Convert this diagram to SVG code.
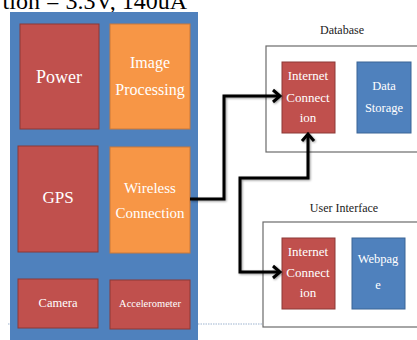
<svg xmlns="http://www.w3.org/2000/svg" width="417" height="340" viewBox="0 0 417 340">
<defs>
<style>
.red{fill:#C0504D;stroke:#8C3836;stroke-width:1}
.org{fill:#F79646;stroke:#C9783A;stroke-width:1}
.blu{fill:#4F81BD;stroke:#3B6596;stroke-width:1}
.frame{fill:#fff;stroke:#6b6b6b;stroke-width:1.2}
.w{fill:#fff;font-family:'Liberation Serif',serif;text-anchor:middle}
.k{fill:#222;font-family:'Liberation Serif',serif;text-anchor:middle;font-size:12px}
.conn{fill:none;stroke:#000;stroke-width:3;stroke-linejoin:miter}
</style>
<marker id="arr" markerUnits="userSpaceOnUse" markerWidth="14" markerHeight="16" refX="11" refY="8" orient="auto-start-reverse" viewBox="0 0 14 16">
<polyline points="4,2 11,8 4,14" fill="none" stroke="#000" stroke-width="3"/>
</marker>
<filter id="sh" x="-10%" y="-10%" width="130%" height="130%">
<feDropShadow dx="1" dy="1" stdDeviation="0.8" flood-color="#000" flood-opacity="0.4"/>
</filter>
</defs>
<rect width="417" height="340" fill="#fff"/>
<text x="187" y="9" font-family="Liberation Serif,serif" font-size="24" text-anchor="end" fill="#000">tion = 3.3V, 140uA</text>
<line x1="8" y1="324" x2="263" y2="324" stroke="#9DB3CF" stroke-width="1" stroke-dasharray="1.5,1"/>
<g id="device">
<rect x="10" y="12" width="188" height="330" fill="#4F81BD"/>
</g>
<g id="power"><rect class="red" x="20" y="24" width="79" height="105"/><text class="w" x="59" y="83" font-size="18">Power</text></g>
<g id="image"><rect class="org" x="110" y="24" width="80" height="105"/><text class="w" x="150" y="68" font-size="16">Image</text><text class="w" x="150" y="95" font-size="16">Processing</text></g>
<g id="gps"><rect class="red" x="18" y="146" width="80" height="106"/><text class="w" x="58" y="203" font-size="17">GPS</text></g>
<g id="wireless"><rect class="org" x="110" y="147" width="80" height="106"/><text class="w" x="150" y="193" font-size="15">Wireless</text><text class="w" x="150" y="218" font-size="15">Connection</text></g>
<g id="camera"><rect class="red" x="18" y="279" width="80" height="49"/><text class="w" x="58" y="307" font-size="12.5">Camera</text></g>
<g id="accel"><rect class="red" x="110" y="280" width="80" height="49"/><text class="w" x="150" y="307" font-size="10.5">Accelerometer</text></g>
<g id="database">
<rect class="frame" x="266" y="46" width="160" height="106"/>
<text class="k" x="342" y="34">Database</text>
</g>
<g id="db-internet"><rect class="red" x="282" y="62" width="53" height="71"/><text class="w" x="308" y="80" font-size="13">Internet</text><text class="w" x="308" y="102" font-size="13">Connect</text><text class="w" x="308" y="122" font-size="13">ion</text></g>
<g id="storage"><rect class="blu" x="357" y="62" width="54" height="71"/><text class="w" x="384" y="90" font-size="12.5">Data</text><text class="w" x="384" y="112" font-size="12.5">Storage</text></g>
<g id="ui">
<rect class="frame" x="263" y="222" width="160" height="105"/>
<text class="k" x="344" y="212">User Interface</text>
</g>
<g id="ui-internet"><rect class="red" x="282" y="238" width="53" height="71"/><text class="w" x="308" y="256" font-size="13">Internet</text><text class="w" x="308" y="277" font-size="13">Connect</text><text class="w" x="308" y="297" font-size="13">ion</text></g>
<g id="webpage"><rect class="blu" x="352" y="238" width="53" height="71"/><text class="w" x="378" y="263" font-size="12.5">Webpag</text><text class="w" x="378" y="289" font-size="12.5">e</text></g>
<g id="connectors" filter="url(#sh)">
<polyline class="conn" points="190,199 224,199 224,96 280,96" marker-end="url(#arr)"/>
<polyline class="conn" points="308,134 308,178 240,178 240,272 280,272" marker-start="url(#arr)" marker-end="url(#arr)"/>
</g>
</svg>
